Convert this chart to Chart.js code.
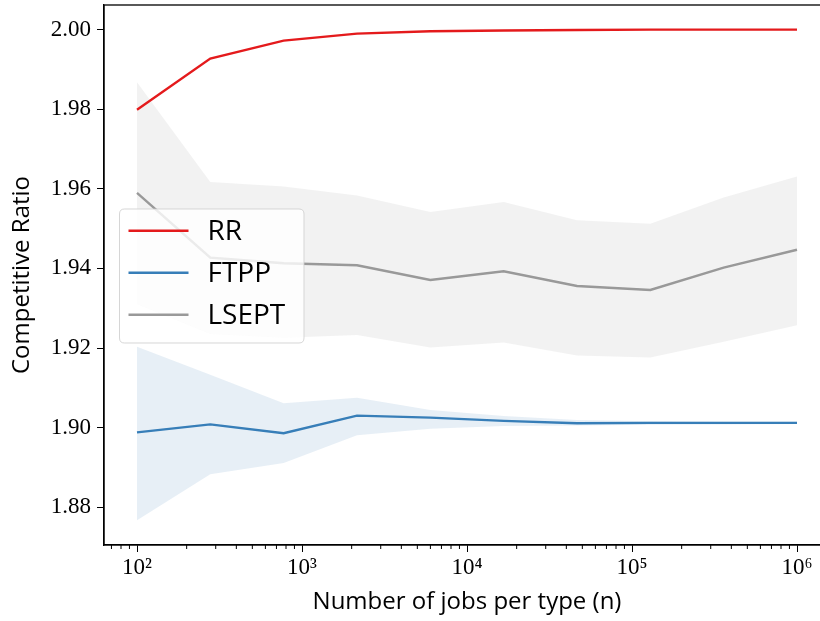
<!DOCTYPE html>
<html>
<head>
<meta charset="utf-8">
<script src="https://cdn.jsdelivr.net/npm/chart.js@4.4.0/dist/chart.umd.min.js"></script>
<style>
html,body{margin:0;padding:0;background:#fff;overflow:hidden;width:820px;height:621px}
#wrap{position:relative;width:840px;height:621px}
</style>
</head>
<body>
<div id="wrap"><canvas id="c"></canvas></div>
<script>
// ---- data ----
const nJobs      = [100, 278, 774, 2154, 5995, 16681, 46416, 129155, 359381, 1000000];
const rrMean     = [1.9799, 1.99275, 1.99725, 1.9990, 1.9996, 1.9998, 1.9999, 2.0000, 2.0000, 2.0000];
const ftppMean   = [1.8988, 1.9008, 1.8986, 1.9030, 1.9025, 1.9017, 1.9011, 1.9012, 1.9012, 1.9012];
const ftppUpper  = [1.9203, 1.9133, 1.9061, 1.9075, 1.9044, 1.9029, 1.9019, 1.9016, 1.9015, 1.9015];
const ftppLower  = [1.8767, 1.8883, 1.8911, 1.8981, 1.8997, 1.9004, 1.9005, 1.9007, 1.9008, 1.9009];
const lseptMean  = [1.9590, 1.9427, 1.9413, 1.9408, 1.9371, 1.9393, 1.9356, 1.9346, 1.9402, 1.9447];
const lseptUpper = [1.9868, 1.9617, 1.9606, 1.9583, 1.9542, 1.9567, 1.9521, 1.9512, 1.9578, 1.9631];
const lseptLower = [1.9310, 1.9235, 1.9226, 1.9233, 1.9201, 1.9214, 1.9181, 1.9176, 1.9216, 1.9257];
const seriesNames = ['RR', 'FTPP', 'LSEPT'];
const yTicks = [1.88, 1.90, 1.92, 1.94, 1.96, 1.98, 2.00];
const xMajorTicks = [100, 1000, 10000, 100000, 1000000];
const xTickLabels = ['10²', '10³', '10⁴', '10⁵', '10⁶'];
const xMinorTicks = [70, 80, 90,
  200, 300, 400, 500, 600, 700, 800, 900,
  2000, 3000, 4000, 5000, 6000, 7000, 8000, 9000,
  20000, 30000, 40000, 50000, 60000, 70000, 80000, 90000,
  200000, 300000, 400000, 500000, 600000, 700000, 800000, 900000];
const xMin = 63.0957, xMax = 1584893;
const yMin = 1.8705, yMax = 2.0062;

// ---- styles ----
const C_RR = '#e41a1c', C_FT = '#377eb8', C_LS = '#999999';
const BAND_FT = 'rgba(55,126,184,0.12)', BAND_LS = 'rgba(153,153,153,0.13)';
const TICK_FONT = {family: "'Liberation Serif','DejaVu Serif',serif", size: 23};
const TITLE_FONT = {family: "'Open Sans',Lato,sans-serif", size: 24};
const LEGEND_FONT = "28px 'Open Sans', Lato, sans-serif";

const pts = ys => nJobs.map((x, i) => ({x: x, y: ys[i]}));
const line = (label, ys, color) => ({label, data: pts(ys), borderColor: color, backgroundColor: color,
  borderWidth: 2.4, pointRadius: 0, tension: 0, fill: false, order: 0, isMain: true});
const band = (ys, color, target) => ({label: '', data: pts(ys), borderWidth: 0, borderColor: 'rgba(0,0,0,0)',
  backgroundColor: color, pointRadius: 0, tension: 0, fill: target === undefined ? false : {target: target}, order: 1});

const datasets = [
  line(seriesNames[0], rrMean, C_RR),      // 0
  line(seriesNames[1], ftppMean, C_FT),    // 1
  line(seriesNames[2], lseptMean, C_LS),   // 2
  band(ftppUpper, BAND_FT),                // 3
  band(ftppLower, BAND_FT, 3),             // 4
  band(lseptUpper, BAND_LS),               // 5
  band(lseptLower, BAND_LS, 5)             // 6
];

const framePlugin = {
  id: 'frame',
  afterDraw(chart) {
    const {ctx, chartArea: a, scales} = chart;
    ctx.save();
    ctx.strokeStyle = '#000'; ctx.lineWidth = 1;
    xMinorTicks.forEach(v => {
      const px = scales.x.getPixelForValue(v);
      if (px < a.left || px > a.right) return;
      ctx.beginPath(); ctx.moveTo(px, a.bottom); ctx.lineTo(px, a.bottom + 4); ctx.stroke();
    });
    ctx.lineWidth = 1.3;
    ctx.strokeRect(a.left, a.top, a.right - a.left, a.bottom - a.top);
    // legend
    const bx = a.left + 15.5, by = a.top + 204, bw = 184.5, bh = 134, r = 5;
    ctx.beginPath();
    ctx.moveTo(bx + r, by); ctx.lineTo(bx + bw - r, by); ctx.quadraticCurveTo(bx + bw, by, bx + bw, by + r);
    ctx.lineTo(bx + bw, by + bh - r); ctx.quadraticCurveTo(bx + bw, by + bh, bx + bw - r, by + bh);
    ctx.lineTo(bx + r, by + bh); ctx.quadraticCurveTo(bx, by + bh, bx, by + bh - r);
    ctx.lineTo(bx, by + r); ctx.quadraticCurveTo(bx, by, bx + r, by);
    ctx.closePath();
    ctx.fillStyle = 'rgba(255,255,255,0.8)'; ctx.fill();
    ctx.strokeStyle = 'rgba(204,204,204,0.8)'; ctx.lineWidth = 1; ctx.stroke();
    const mains = chart.data.datasets.filter(d => d.isMain);
    ctx.font = LEGEND_FONT; ctx.textBaseline = 'middle'; ctx.textAlign = 'left';
    mains.forEach((d, i) => {
      const yy = by + 21.7 + i * 42;
      ctx.strokeStyle = d.borderColor; ctx.lineWidth = 2.4;
      ctx.beginPath(); ctx.moveTo(bx + 9, yy); ctx.lineTo(bx + 69, yy); ctx.stroke();
      ctx.fillStyle = '#000';
      ctx.fillText(d.label, bx + 88, yy + 1);
    });
    ctx.restore();
  }
};

new Chart(document.getElementById('c'), {
  type: 'line',
  data: {datasets},
  plugins: [framePlugin],
  options: {
    responsive: true, maintainAspectRatio: false, animation: false,
    layout: {padding: {top: 5, right: 10, left: 0, bottom: 0}},
    plugins: {legend: {display: false}, tooltip: {enabled: false}},
    scales: {
      x: {
        type: 'logarithmic', min: xMin, max: xMax,
        afterBuildTicks: s => { s.ticks = xMajorTicks.map(v => ({value: v, major: true})); },
        afterFit: s => { s.height = 76; s.paddingLeft = 0; s.paddingRight = 0; },
        border: {display: true, color: '#000', width: 1.3},
        grid: {display: true, drawOnChartArea: false, drawTicks: true, tickLength: 7, tickColor: '#000', tickWidth: 1},
        ticks: {font: TICK_FONT, color: '#000', padding: 2, autoSkip: false, maxRotation: 0,
          callback: (v) => { const i = xMajorTicks.indexOf(v); return i >= 0 ? xTickLabels[i] : ''; }},
        title: {display: true, text: 'Number of jobs per type (n)', font: TITLE_FONT, color: '#000', padding: {top: 0, bottom: 4}}
      },
      y: {
        type: 'linear', min: yMin, max: yMax,
        afterBuildTicks: s => { s.ticks = yTicks.map(v => ({value: v})); },
        afterFit: s => { s.width = 104; s.paddingTop = 0; s.paddingBottom = 0; },
        border: {display: true, color: '#000', width: 1.3},
        grid: {display: true, drawOnChartArea: false, drawTicks: true, tickLength: 7, tickColor: '#000', tickWidth: 1},
        ticks: {font: TICK_FONT, color: '#000', padding: 6, callback: v => Number(v).toFixed(2)},
        title: {display: true, text: 'Competitive Ratio', font: TITLE_FONT, color: '#000', padding: {top: 8, bottom: 0}}
      }
    }
  }
});
</script>
</body>
</html>
